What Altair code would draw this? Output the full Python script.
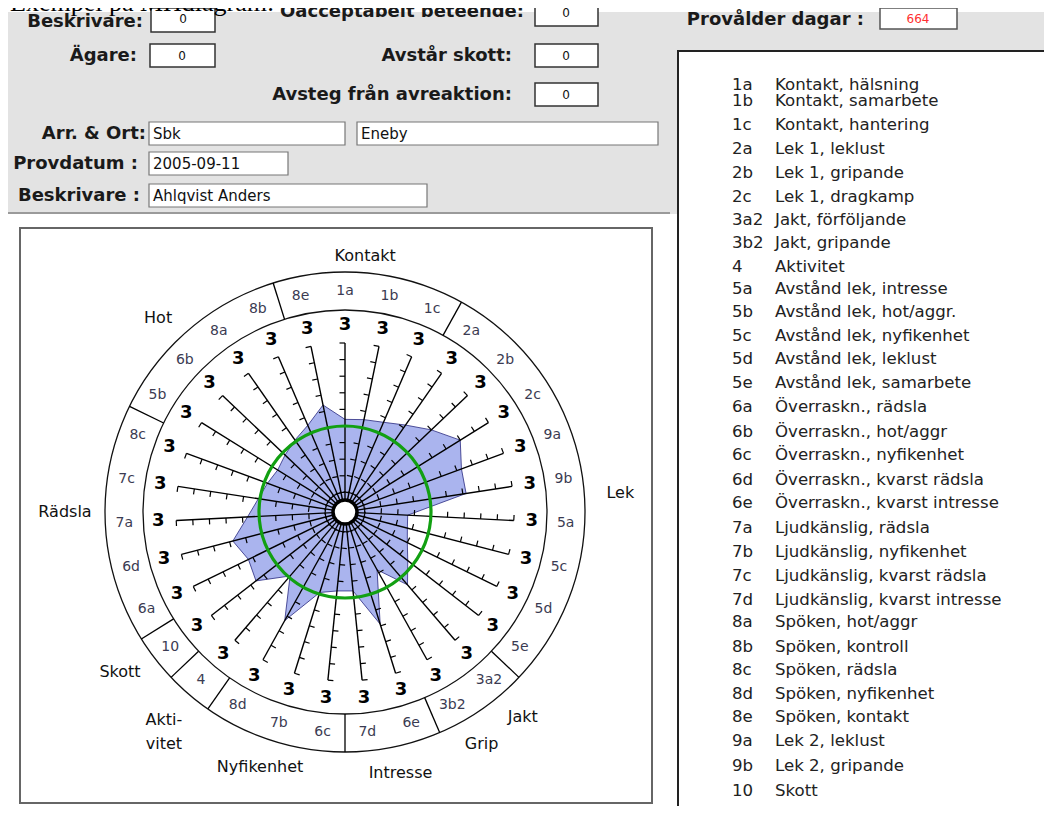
import altair as alt
import numpy as np
import pandas as pd

# ---------------- data ----------------
codes = ["1a", "1b", "1c", "2a", "2b", "2c", "9a", "9b", "5a", "5c", "5d", "5e", "3a2", "3b2",
         "6e", "7d", "6c", "7b", "8d", "4", "10", "6a", "6d", "7a", "7c", "8c", "5b", "6b",
         "8a", "8b", "8e"]
values = [5.4, 5.5, 5.7, 6.2, 7.0, 8.0, 7.3, 7.2, 3.6, 3.7, 4.0, 4.6, 5.6, 3.8,
          6.9, 4.6, 4.6, 4.9, 7.3, 4.9, 6.6, 6.3, 6.8, 5.7, 5.1, 4.8, 4.6, 4.8,
          5.1, 5.5, 6.4]
scores = ["3"] * 31
segments = [1, 1, 1, 2, 2, 2, 2, 2, 2, 2, 2, 2, 3, 3, 4, 4, 5, 5, 5, 6, 7,
            8, 8, 8, 8, 8, 9, 9, 9, 9, 1]
group_names = ["Kontakt", "Lek", "Jakt", "Grip", "Intresse", "Nyfikenhet",
               "Akti-\nvitet", "Skott", "Rädsla", "Hot"]
reference_level = 5
tick_levels = list(range(1, 11))

legend_codes = ["1a", "1b", "1c", "2a", "2b", "2c", "3a2", "3b2", "4", "5a", "5b", "5c",
                "5d", "5e", "6a", "6b", "6c", "6d", "6e", "7a", "7b", "7c", "7d", "8a",
                "8b", "8c", "8d", "8e", "9a", "9b", "10"]
legend_texts = ["Kontakt, hälsning", "Kontakt, samarbete", "Kontakt, hantering",
                "Lek 1, leklust", "Lek 1, gripande", "Lek 1, dragkamp",
                "Jakt, förföljande", "Jakt, gripande", "Aktivitet",
                "Avstånd lek, intresse", "Avstånd lek, hot/aggr.", "Avstånd lek, nyfikenhet",
                "Avstånd lek, leklust", "Avstånd lek, samarbete",
                "Överraskn., rädsla", "Överraskn., hot/aggr", "Överraskn., nyfikenhet",
                "Överraskn., kvarst rädsla", "Överraskn., kvarst intresse",
                "Ljudkänslig, rädsla", "Ljudkänslig, nyfikenhet",
                "Ljudkänslig, kvarst rädsla", "Ljudkänslig, kvarst intresse",
                "Spöken, hot/aggr", "Spöken, kontroll", "Spöken, rädsla",
                "Spöken, nyfikenhet", "Spöken, kontakt", "Lek 2, leklust",
                "Lek 2, gripande", "Skott"]

form_labels = ["Beskrivare:", "Oacceptabelt beteende:", "Ägare:", "Avstår skott:",
               "Avsteg från avreaktion:", "Arr. & Ort:", "Provdatum :", "Beskrivare :",
               "Provålder dagar :"]
form_values = ["0", "0", "0", "0", "0", "Sbk", "Eneby", "2005-09-11", "Ahlqvist Anders", "664"]
page_title = "Exempel på MHdiagram:"

# ---------------- layout (page pixels) ----------------
CX, CY = 345, 512
R0, RS = 3.0, 16.6           # radius of level 0, pixels per level
R_HUB, R_IN, R_OUT = 12, 202, 240
R_CODE, R_SCORE = 221, 187
TICK = 5.5
N = len(codes)
STEP = 360.0 / N


def rad(v):
    return R0 + RS * v


def polar(r, a_deg):
    a = np.radians(a_deg)
    return CX + r * np.sin(a), CY - r * np.cos(a)


angles = [i * STEP for i in range(N)]

# polygon
poly_rows = []
for k in range(N + 1):
    i = k % N
    x, y = polar(rad(values[i]), angles[i])
    poly_rows.append({"x": x, "y": y, "o": k})
poly_df = pd.DataFrame(poly_rows)

# spokes
spoke_rows = []
for i in range(N):
    x1, y1 = polar(R_HUB, angles[i])
    x2, y2 = polar(rad(tick_levels[-1]), angles[i])
    spoke_rows.append({"x": x1, "y": y1, "x2": x2, "y2": y2})
spoke_df = pd.DataFrame(spoke_rows)

# ticks (counter-clockwise side)
tick_rows = []
for i in range(N):
    a = np.radians(angles[i])
    for v in tick_levels:
        x, y = polar(rad(v), angles[i])
        tick_rows.append({"x": x, "y": y,
                          "x2": x - TICK * np.cos(a), "y2": y - TICK * np.sin(a)})
tick_df = pd.DataFrame(tick_rows)

# segment separators in the label ring
sep_rows = []
for i in range(N):
    if segments[i] != segments[(i + 1) % N]:
        a = (i + 0.5) * STEP
        x1, y1 = polar(R_IN, a)
        x2, y2 = polar(R_OUT, a)
        sep_rows.append({"x": x1, "y": y1, "x2": x2, "y2": y2})
sep_df = pd.DataFrame(sep_rows)

# circles
circle_df = pd.DataFrame([
    {"x": CX, "y": CY, "size": (2 * R_IN) ** 2, "stroke": "#111111", "sw": 1.3},
    {"x": CX, "y": CY, "size": (2 * R_OUT) ** 2, "stroke": "#111111", "sw": 1.3},
])
green_df = pd.DataFrame([{"x": CX, "y": CY, "size": (2 * rad(reference_level)) ** 2}])
hub_df = pd.DataFrame([{"x": CX, "y": CY, "size": (2 * R_HUB) ** 2}])

# labels around
code_rows, score_rows = [], []
for i in range(N):
    x, y = polar(R_CODE, angles[i])
    code_rows.append({"x": x, "y": y, "t": codes[i]})
    x, y = polar(R_SCORE, angles[i])
    score_rows.append({"x": x, "y": y, "t": scores[i]})
code_df = pd.DataFrame(code_rows)
score_df = pd.DataFrame(score_rows)

group_pos = [(4.5, 257), (86, 276), (139, 271), (149.5, 269), (168, 267),
             (198.4, 269), (221, 276), (234.6, 276), (270, 280), (316, 269)]
grp_rows = []
for name, (a, r) in zip(group_names, group_pos):
    x, y = polar(r, a)
    grp_rows.append({"x": x, "y": y, "t": name})
grp_df = pd.DataFrame(grp_rows)

# backgrounds / boxes
GRAY = "#e3e3e3"
rects = pd.DataFrame([
    {"x": 8, "x2": 1044, "y": 12, "y2": 51, "fill": GRAY, "stroke": GRAY, "sw": 0},
    {"x": 8, "x2": 678, "y": 12, "y2": 214, "fill": GRAY, "stroke": GRAY, "sw": 0},
    {"x": 678, "x2": 1060, "y": 51, "y2": 820, "fill": "#ffffff", "stroke": "#222222", "sw": 2},
    {"x": 20, "x2": 652, "y": 228, "y2": 803, "fill": "#ffffff", "stroke": "#666666", "sw": 2},
    # value boxes
    {"x": 151, "x2": 215, "y": 8, "y2": 32, "fill": "#ffffff", "stroke": "#333333", "sw": 1.5},
    {"x": 535, "x2": 598, "y": 4, "y2": 26, "fill": "#ffffff", "stroke": "#333333", "sw": 1.5},
    {"x": 150, "x2": 215, "y": 44, "y2": 67, "fill": "#ffffff", "stroke": "#333333", "sw": 1.5},
    {"x": 535, "x2": 598, "y": 44, "y2": 67, "fill": "#ffffff", "stroke": "#333333", "sw": 1.5},
    {"x": 535, "x2": 598, "y": 83, "y2": 106, "fill": "#ffffff", "stroke": "#333333", "sw": 1.5},
    {"x": 149, "x2": 345, "y": 122, "y2": 145, "fill": "#ffffff", "stroke": "#777777", "sw": 1.2},
    {"x": 357, "x2": 658, "y": 122, "y2": 145, "fill": "#ffffff", "stroke": "#777777", "sw": 1.2},
    {"x": 149, "x2": 288, "y": 152, "y2": 175, "fill": "#ffffff", "stroke": "#777777", "sw": 1.2},
    {"x": 149, "x2": 427, "y": 184, "y2": 207, "fill": "#ffffff", "stroke": "#777777", "sw": 1.2},
    {"x": 880, "x2": 957, "y": 8, "y2": 29, "fill": "#ffffff", "stroke": "#555555", "sw": 1.5},
])
hline_df = pd.DataFrame([{"x": 8, "x2": 670, "y": 213, "y2": 213}])

label_pos = [(143, 22), (524, 12), (137, 56), (512, 56), (512, 95), (146, 134),
             (138, 164), (140, 196), (864, 20)]
flab_df = pd.DataFrame([{"x": p[0], "y": p[1], "t": t} for t, p in zip(form_labels, label_pos)])

value_pos = [(183, "c", 19), (566, "c", 13), (182, "c", 56), (566, "c", 56), (566, "c", 95),
             (153, "l", 134), (361, "l", 134), (153, "l", 164), (153, "l", 196), (918, "c", 19)]
fval_rows = []
for t, (x, al, y) in zip(form_values, value_pos):
    fval_rows.append({"x": x, "y": y, "t": t, "al": al,
                      "c": "#ff3030" if t == "664" else "#111111"})
fval_df = pd.DataFrame(fval_rows)

legend_y = [85, 101, 125, 149, 173, 197, 220, 243, 267, 289, 312, 336, 359, 383, 407,
            432, 455, 480, 503, 528, 552, 576, 600, 622, 647, 670, 694, 717, 741, 766, 791]
leg_df = pd.DataFrame({"code": legend_codes, "text": legend_texts, "y": legend_y})
leg_df["xc"] = 732
leg_df["xt"] = 775

title_df = pd.DataFrame([{"x": 10, "y": 11, "t": page_title}])

# ---------------- chart ----------------
W, H = 1036, 798
xs = alt.Scale(domain=[8, 8 + W], nice=False, zero=False)
ys = alt.Scale(domain=[8, 8 + H], nice=False, zero=False, reverse=True)
X = lambda f="x": alt.X(f"{f}:Q", scale=xs, axis=None)
Y = lambda f="y": alt.Y(f"{f}:Q", scale=ys, axis=None)

bg = alt.Chart(rects).mark_rect().encode(
    x=X(), x2="x2", y=Y(), y2="y2",
    fill=alt.Fill("fill:N", scale=None),
    stroke=alt.Stroke("stroke:N", scale=None),
    strokeWidth=alt.StrokeWidth("sw:Q", scale=None),
)
hline = alt.Chart(hline_df).mark_rule(color="#9a9a9a", strokeWidth=2).encode(
    x=X(), x2="x2", y=Y(), y2="y2")

title = alt.Chart(title_df).mark_text(
    align="left", baseline="alphabetic", font="Liberation Serif", fontSize=26, color="#000000"
).encode(x=X(), y=Y(), text="t:N")

flab = alt.Chart(flab_df).mark_text(
    align="right", baseline="middle", font="DejaVu Sans", fontWeight="bold", fontSize=18,
    color="#1a1a1a"
).encode(x=X(), y=Y(), text="t:N")

fval_c = alt.Chart(fval_df[fval_df.al == "c"]).mark_text(
    align="center", baseline="middle", font="DejaVu Sans", fontSize=12
).encode(x=X(), y=Y(), text="t:N", color=alt.Color("c:N", scale=None))
fval_l = alt.Chart(fval_df[fval_df.al == "l"]).mark_text(
    align="left", baseline="middle", font="DejaVu Sans", fontSize=15
).encode(x=X(), y=Y(), text="t:N", color=alt.Color("c:N", scale=None))

leg_code = alt.Chart(leg_df).mark_text(
    align="left", baseline="middle", font="DejaVu Sans", fontSize=16.6, color="#222222"
).encode(x=X("xc"), y=Y(), text="code:N")
leg_text = alt.Chart(leg_df).mark_text(
    align="left", baseline="middle", font="DejaVu Sans", fontSize=16.6, color="#222222"
).encode(x=X("xt"), y=Y(), text="text:N")

poly = alt.Chart(poly_df).mark_line(
    fill="#aab4ee", stroke="#2a2a80", strokeWidth=0.8, interpolate="linear"
).encode(x=X(), y=Y(), order="o:Q")

spokes = alt.Chart(spoke_df).mark_rule(color="#000000", strokeWidth=1.4).encode(
    x=X(), x2="x2", y=Y(), y2="y2")
ticks = alt.Chart(tick_df).mark_rule(color="#000000", strokeWidth=1.2).encode(
    x=X(), x2="x2", y=Y(), y2="y2")
seps = alt.Chart(sep_df).mark_rule(color="#000000", strokeWidth=1.3).encode(
    x=X(), x2="x2", y=Y(), y2="y2")

rings = alt.Chart(circle_df).mark_point(shape="circle", filled=False, opacity=1).encode(
    x=X(), y=Y(), size=alt.Size("size:Q", scale=None),
    stroke=alt.Stroke("stroke:N", scale=None),
    strokeWidth=alt.StrokeWidth("sw:Q", scale=None))
green = alt.Chart(green_df).mark_point(
    shape="circle", filled=False, stroke="#12a012", strokeWidth=3.2, opacity=1
).encode(x=X(), y=Y(), size=alt.Size("size:Q", scale=None))
hub = alt.Chart(hub_df).mark_point(
    shape="circle", filled=True, fill="#ffffff", stroke="#000000", strokeWidth=3.5, opacity=1
).encode(x=X(), y=Y(), size=alt.Size("size:Q", scale=None))

code_txt = alt.Chart(code_df).mark_text(
    align="center", baseline="middle", font="DejaVu Sans", fontSize=14, color="#3b3b52"
).encode(x=X(), y=Y(), text="t:N")
score_txt = alt.Chart(score_df).mark_text(
    align="center", baseline="middle", font="DejaVu Sans", fontWeight="bold", fontSize=18,
    color="#000000"
).encode(x=X(), y=Y(), text="t:N")
grp_txt = alt.Chart(grp_df).mark_text(
    align="center", baseline="middle", font="DejaVu Sans", fontSize=16, color="#111111",
    lineBreak="\n", lineHeight=24
).encode(x=X(), y=Y(), text="t:N")

chart = alt.layer(
    bg, hline, flab, fval_c, fval_l, leg_code, leg_text, title,
    poly, spokes, ticks, hub, rings, seps, green, code_txt, score_txt, grp_txt
).properties(
    width=W, height=H, padding=0, autosize=alt.AutoSizeParams(type="none")
).configure_view(stroke=None)

chart.save("out.html", embed_options={"renderer": "svg", "actions": False})
